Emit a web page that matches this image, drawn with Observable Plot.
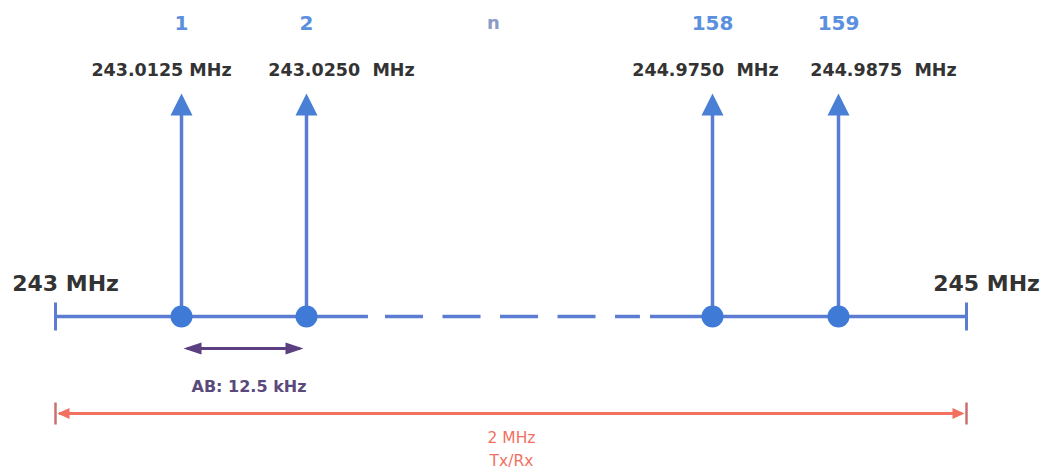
<!DOCTYPE html>
<html><head><meta charset="utf-8">
<script src="https://cdn.jsdelivr.net/npm/d3@7"></script>
<script src="https://cdn.jsdelivr.net/npm/@observablehq/plot@0.6"></script>
<style>
html,body{margin:0;background:#fff}#chart svg{display:block}
g[aria-label="band label"] text{letter-spacing:2px}
g[aria-label="spacing label"] text{letter-spacing:0.5px}
</style>
</head><body><div id="chart"></div>
<script>
// ---- data ----
const channelNumbers = ["1", "2", "158", "159"];
const channelFreqs = [243.0125, 243.0250, 244.9750, 244.9875];
const channelLabels = ["243.0125 MHz", "243.0250  MHz", "244.9750  MHz", "244.9875  MHz"];
const bandEdges = [243, 245];
const bandEdgeLabels = ["243 MHz", "245 MHz"];
const ellipsisFreq = [244];
const ellipsisLabel = ["n"];
const spacingLabel = ["AB: 12.5 kHz"];
const bandwidthLabel = ["2 MHz", "Tx/Rx"];
const solidEnds = [243.348, 244.699];   // baseline turns dashed between these
const dashEnds = [243.437, 244.654];

// ---- layout / styles ----
const W = 1043, H = 472;
const BLUE_LINE = "#5c7bd3", BLUE_DOT = "#3f7bd6", BLUE_HEAD = "#4a7fd6",
      BLUE_TXT = "#5a90de", N_TXT = "#8a9cc8", DARK = "#333333",
      PURPLE = "#5c3f80", PURPLE_TXT = "#5a4a7c", RED = "#f2705f", RED_TICK = "#c87070";
const labelShift = [-20, 35, -7, 45];

// symbols
const tri = (w, h) => ({draw(ctx, size) {
  const k = Math.sqrt(size / Math.PI) / 10;
  ctx.moveTo(0, 0); ctx.lineTo(w / 2 * k, h * k); ctx.lineTo(-w / 2 * k, h * k); ctx.closePath();
}});
const vbar = {draw(ctx, size) {
  const h = Math.sqrt(size / Math.PI);
  ctx.moveTo(0, -h); ctx.lineTo(0, h);
}};

const xDomain = [bandEdges[0], channelFreqs[0], channelFreqs[1], ellipsisFreq[0], channelFreqs[2], channelFreqs[3], bandEdges[1]];
const xRange = [55, 181, 306, 493, 712, 838, 966];

const idx = channelFreqs.map((_, i) => i);

const marks = [
  // baseline: solid – dashed – solid
  Plot.ruleY([0], {x1: bandEdges[0], x2: solidEnds[0], stroke: BLUE_LINE, strokeWidth: 3.5}),
  Plot.ruleY([0], {x1: dashEnds[0], x2: dashEnds[1], stroke: BLUE_LINE, strokeWidth: 3.5, strokeDasharray: "38 19.5"}),
  Plot.ruleY([0], {x1: solidEnds[1], x2: bandEdges[1], stroke: BLUE_LINE, strokeWidth: 3.5}),
  Plot.dot(bandEdges, {x: d => d, y: 0, symbol: vbar, r: 14, stroke: BLUE_LINE, strokeWidth: 3, fill: "none"}),
  // carrier stems
  Plot.ruleX(channelFreqs, {x: d => d, y1: 0, y2: 0.93, stroke: BLUE_LINE, strokeWidth: 3.5}),
  Plot.dot(channelFreqs, {x: d => d, y: 1, symbol: tri(22, 22), r: 10, fill: BLUE_HEAD, stroke: "none"}),
  Plot.dot(channelFreqs, {x: d => d, y: 0, r: 11, fill: BLUE_DOT, stroke: "none"}),
  // channel numbers
  Plot.text(idx, {x: i => channelFreqs[i], y: 1, dy: -70, text: i => channelNumbers[i], fill: BLUE_TXT, fontSize: 20, fontWeight: "bold"}),
  Plot.text(ellipsisFreq, {x: d => d, y: 1, dy: -70, text: (d, i) => ellipsisLabel[i], fill: N_TXT, fontSize: 18, fontWeight: "bold"}),
  // frequency labels
  ...idx.map(i => Plot.text([i], {x: j => channelFreqs[j], y: 1, dy: -23.5, dx: labelShift[i], text: j => channelLabels[j], fill: DARK, fontSize: 17.5, fontWeight: "bold"})),
  // band edge labels
  Plot.text([0], {x: i => bandEdges[i], y: 0, dy: -32.5, dx: 10, text: i => bandEdgeLabels[i], fill: DARK, fontSize: 22, fontWeight: "bold"}),
  Plot.text([1], {x: i => bandEdges[i], y: 0, dy: -32.5, dx: 20, text: i => bandEdgeLabels[i], fill: DARK, fontSize: 22, fontWeight: "bold"}),
  // channel spacing arrow
  Plot.ruleY([0], {x1: channelFreqs[0], x2: channelFreqs[1], dy: 32, insetLeft: 6, insetRight: 6, stroke: PURPLE, strokeWidth: 3}),
  Plot.dot([channelFreqs[0]], {x: d => d, y: 0, dy: 32, dx: 2, rotate: -90, symbol: tri(12, 18), r: 10, fill: PURPLE, stroke: "none"}),
  Plot.dot([channelFreqs[1]], {x: d => d, y: 0, dy: 32, dx: -3, rotate: 90, symbol: tri(12, 18), r: 10, fill: PURPLE, stroke: "none"}),
  Plot.text(spacingLabel, {ariaLabel: "spacing label", x: (channelFreqs[0] + channelFreqs[1]) / 2, y: 0, dy: 70, dx: 5, text: d => d, fill: PURPLE_TXT, fontSize: 16, fontWeight: "bold"}),
  // 2 MHz band arrow
  Plot.ruleY([0], {x1: bandEdges[0], x2: bandEdges[1], dy: 97, insetLeft: 4, insetRight: 4, stroke: RED, strokeWidth: 3}),
  Plot.dot([bandEdges[0]], {x: d => d, y: 0, dy: 97, dx: 2, rotate: -90, symbol: tri(11, 12), r: 10, fill: RED, stroke: "none"}),
  Plot.dot([bandEdges[1]], {x: d => d, y: 0, dy: 97, dx: -2, rotate: 90, symbol: tri(11, 12), r: 10, fill: RED, stroke: "none"}),
  Plot.dot(bandEdges, {x: d => d, y: 0, dy: 97, symbol: vbar, r: 11, stroke: RED_TICK, strokeWidth: 2.5, fill: "none"}),
  Plot.text([bandwidthLabel.join("\n")], {ariaLabel: "band label", x: ellipsisFreq[0], y: 0, dy: 131, dx: 18, text: d => d, fill: RED, fontSize: 15.5, lineHeight: 1.45})
];

const chart = Plot.plot({
  width: W, height: H,
  marginTop: 0, marginRight: 0, marginBottom: 0, marginLeft: 0,
  x: {type: "linear", domain: xDomain, range: xRange, axis: null},
  y: {domain: [0, 1], range: [316, 93], axis: null},
  style: {fontFamily: "DejaVu Sans", background: "#fff", overflow: "visible"},
  marks
});
document.getElementById("chart").appendChild(chart);
</script>
</body></html>
